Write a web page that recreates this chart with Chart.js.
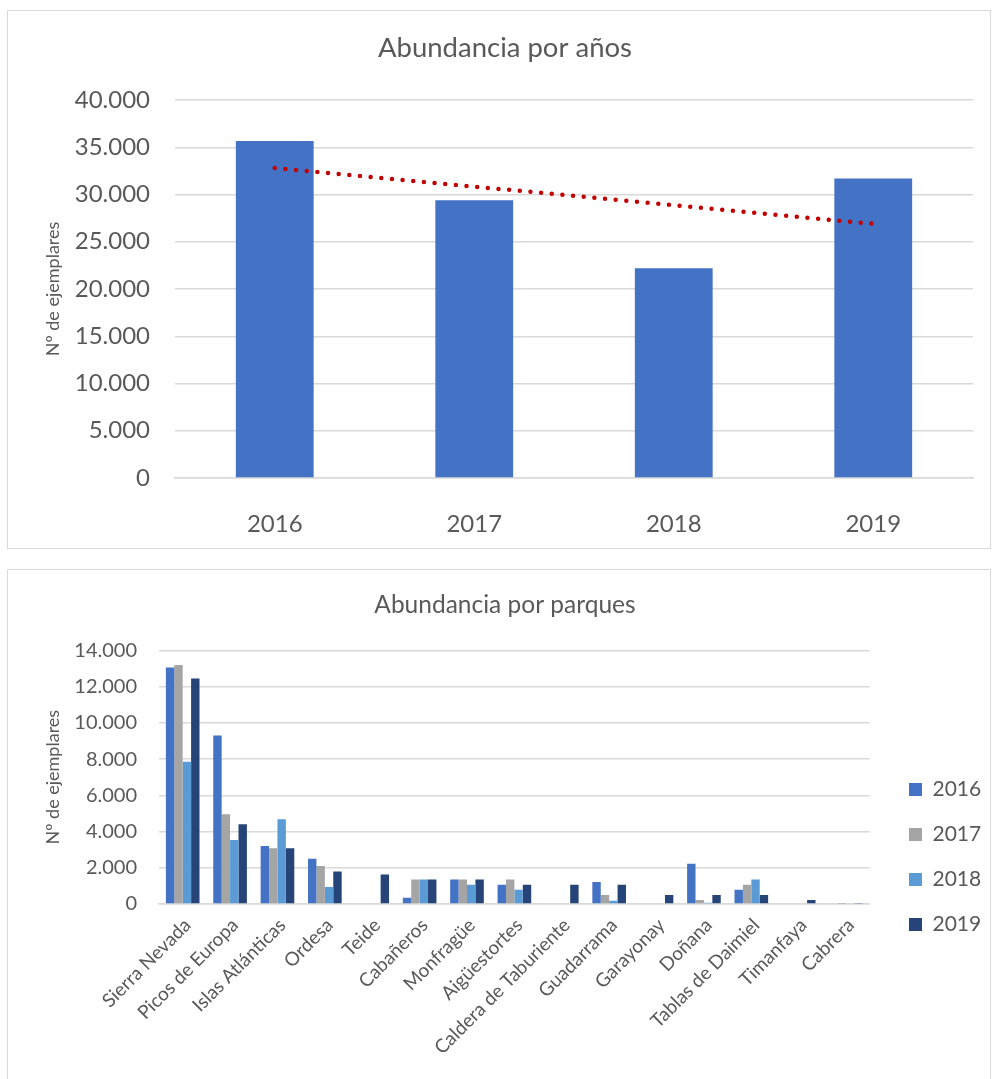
<!DOCTYPE html>
<html>
<head>
<meta charset="utf-8">
<script src="https://cdn.jsdelivr.net/npm/chart.js@4.4.1/dist/chart.umd.min.js"></script>
<style>
  body { margin: 0; background: #fff; }
  .box { position: absolute; left: 7px; width: 984px; box-sizing: border-box; border: 1px solid #d9d9d9; background: #fff; }
  #box1 { top: 10px; height: 539px; }
  #box2 { top: 569px; height: 520px; }
  canvas { display: block; }
</style>
</head>
<body>
<div class="box" id="box1"><canvas id="graph1" width="982" height="537"></canvas></div>
<div class="box" id="box2"><canvas id="graph2" width="982" height="509"></canvas></div>
<script>
// DATA TOP CHART
let anos = ['2016', '2017', '2018', '2019'];
let totalAnos = [35650, 29400, 22200, 31700];
let tendencia = [32800, null, null, 26900];

// DATA BOTTOM CHART
let parques = ['Sierra Nevada', 'Picos de Europa', 'Islas Atlánticas', 'Ordesa', 'Teide', 'Cabañeros',
  'Monfragüe', 'Aigüestortes', 'Caldera de Taburiente', 'Guadarrama', 'Garayonay', 'Doñana',
  'Tablas de Daimiel', 'Timanfaya', 'Cabrera'];
let datos2016 = [13050, 9300, 3200, 2500, 0, 350, 1350, 1060, 0, 1210, 0, 2220, 790, 0, 40];
let datos2017 = [13200, 4950, 3080, 2100, 0, 1350, 1350, 1350, 0, 500, 0, 220, 1060, 0, 20];
let datos2018 = [7850, 3530, 4680, 940, 0, 1350, 1060, 790, 0, 180, 0, 70, 1350, 0, 40];
let datos2019 = [12450, 4400, 3080, 1800, 1630, 1350, 1350, 1060, 1060, 1060, 500, 500, 500, 220, 50];

let grey = '#595959';
let gridColor = '#d9d9d9';

Chart.defaults.font.family = 'Lato';
Chart.defaults.color = grey;
Chart.defaults.animation = false;

// 40000 -> "40.000"
let miles = (v) => String(v).replace(/\B(?=(\d{3})+(?!\d))/g, '.');

// FIRST GRAPH
let ctx1 = document.getElementById('graph1').getContext('2d');
let firstGraph = new Chart(ctx1, {
  type: 'bar',
  data: {
    labels: anos,
    datasets: [{
      type: 'line',
      data: tendencia,
      spanGaps: true,
      borderColor: '#C00000',
      borderWidth: 4.5,
      borderDash: [0, 10.7],
      borderCapStyle: 'round',
      pointRadius: 0,
      fill: false,
      order: 0
    }, {
      data: totalAnos,
      backgroundColor: '#4472C4',
      categoryPercentage: 1,
      barPercentage: 0.39,
      order: 1
    }]
  },
  options: {
    responsive: false,
    layout: { padding: { left: 29, right: 17, top: 0, bottom: 0 } },
    plugins: {
      legend: { display: false },
      tooltip: { enabled: false },
      title: {
        display: true,
        text: 'Abundancia por años',
        color: grey,
        font: { size: 27.5, weight: 'normal' },
        padding: { top: 21, bottom: 35 }
      }
    },
    scales: {
      x: {
        grid: { display: false },
        border: { color: gridColor, width: 1.5 },
        ticks: { font: { size: 24 }, padding: 24 },
        afterFit: (s) => { s.height = 70; }
      },
      y: {
        min: 0,
        max: 40000,
        ticks: { stepSize: 5000, font: { size: 24 }, padding: 25, callback: (v) => miles(v) },
        grid: { color: gridColor, lineWidth: 1.5, drawTicks: false },
        border: { display: false },
        title: { display: true, text: 'Nº de ejemplares', font: { size: 18 }, padding: { top: 5, bottom: 0 } },
        afterFit: (s) => { s.width = 138; }
      }
    }
  }
});

// move legend to where excel puts it
let moveLegend = {
  id: 'moveLegend',
  afterLayout(chart) {
    let l = chart.legend;
    let w = l.right - l.left;
    let h = l.bottom - l.top;
    l.left = 877;
    l.right = 877 + w;
    l.top = 185;
    l.bottom = 185 + h;
  }
};

// SECOND GRAPH
let ctx2 = document.getElementById('graph2').getContext('2d');
let colores = ['#4472C4', '#A5A5A5', '#5B9BD5', '#264478'];
let series = [datos2016, datos2017, datos2018, datos2019];
let secondGraph = new Chart(ctx2, {
  type: 'bar',
  data: {
    labels: parques,
    datasets: series.map((d, i) => ({
      label: anos[i],
      data: d,
      backgroundColor: colores[i],
      categoryPercentage: 0.71,
      barPercentage: 1
    }))
  },
  options: {
    responsive: false,
    layout: { padding: { left: 26, right: 14, top: 0, bottom: 0 } },
    plugins: {
      tooltip: { enabled: false },
      legend: {
        position: 'right',
        align: 'start',
        labels: { boxWidth: 13, boxHeight: 13, padding: 24, color: grey, font: { size: 21 } }
      },
      title: {
        display: true,
        text: 'Abundancia por parques',
        color: grey,
        font: { size: 24.5, weight: 'normal' },
        padding: { top: 20, bottom: 31 }
      }
    },
    scales: {
      x: {
        grid: { display: false },
        border: { color: gridColor, width: 1.5 },
        ticks: { font: { size: 19 }, padding: 2, labelOffset: 5, minRotation: 45, maxRotation: 45, autoSkip: false },
        afterFit: (s) => { s.height = 175; }
      },
      y: {
        min: 0,
        max: 14000,
        ticks: { stepSize: 2000, font: { size: 20 }, padding: 22, callback: (v) => miles(v) },
        grid: { color: gridColor, lineWidth: 1.5, drawTicks: false },
        border: { display: false },
        title: { display: true, text: 'Nº de ejemplares', font: { size: 18 }, padding: { top: 8, bottom: 0 } },
        afterFit: (s) => { s.width = 125; }
      }
    }
  },
  plugins: [moveLegend]
});
</script>
</body>
</html>
